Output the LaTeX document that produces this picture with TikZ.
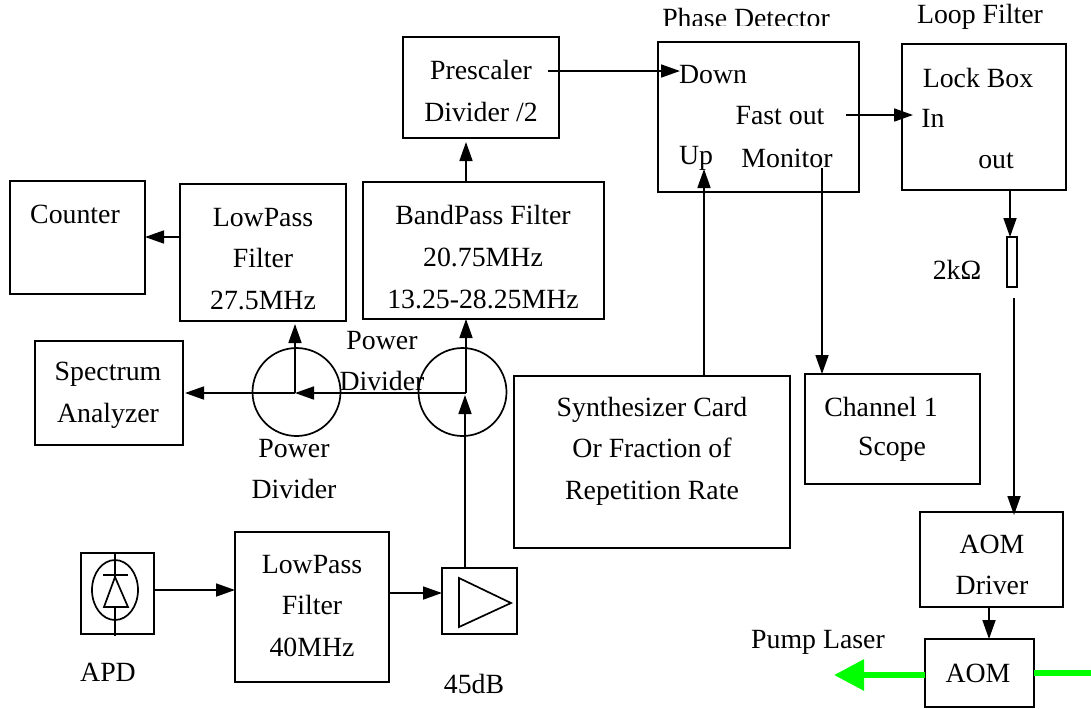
\documentclass[tikz,border=0pt]{standalone}
\usepackage{fontspec}
\setmainfont{Liberation Serif}
\usetikzlibrary{arrows.meta,calc,shapes.geometric}
\definecolor{laser}{RGB}{0,255,0}
\tikzset{
  every node/.style={font=\fontsize{13.9}{20.8}\selectfont,inner sep=0pt,outer sep=0pt,text=black},
  wire/.style={line width=0.85pt,black},
  arr/.style={wire,-{Triangle[length=9.5pt,width=6.5pt]}},
  beam/.style={line width=3pt,laser},
  beamarr/.style={beam,-{Triangle[length=15pt,width=15pt]}},
  blockbox/.style={draw=black,line width=0.85pt,rectangle},
  divider/.style={draw=black,line width=0.85pt,circle,minimum size=44pt},
  lab/.style={align=center}
}
% name, x1, y1, x2, y2 of the box in reference pixels
\newcommand{\blk}[5]{\node[blockbox,minimum width={(#4-#2)*0.5pt},minimum height={(#5-#3)*0.5pt}] (#1) at ({(#2+#4)/2},{(#3+#5)/2}) {};}
\begin{document}
\begin{tikzpicture}[x=0.5pt,y=-0.5pt]
\useasboundingbox (0,0) rectangle (1091,708);
% boxes
\blk{counter}{10}{181}{145}{294}
\blk{lpa}{180}{184}{346}{321}
\blk{bp}{363}{182}{604}{319}
\blk{pre}{403}{37}{559}{138}
\blk{pd}{658}{42}{859}{192}
\blk{lf}{902}{44}{1066}{190}
\blk{res}{1007}{237}{1017}{287}
\blk{spec}{35}{341}{183}{445}
\blk{syn}{514}{376}{790}{548}
\blk{chan}{805}{374}{980}{484}
\blk{apd}{81}{553}{154}{634}
\blk{lpb}{235}{532}{389}{682}
\blk{amp}{442}{568}{517}{634}
\blk{drv}{920}{512}{1063}{607}
\blk{aom}{925}{639}{1034}{707}
\node[divider] (dl) at (296.5,392) {};
\node[divider] (dr) at (462.5,392) {};
% labels
\node[lab] (tcounter) at (75,214) {Counter};
\node[lab] (tlpa) at (263,259) {LowPass\\Filter\\27.5MHz};
\node[lab] (tbp) at (483,257) {BandPass Filter\\20.75MHz\\13.25-28.25MHz};
\node[lab] (tpre) at (481,91) {Prescaler\\Divider /2};
\node[lab] (tspec) at (108,395) {Spectrum\\Analyzer};
\node[lab] (tsyn) at (652,451) {Synthesizer Card\\Or Fraction of\\Repetition Rate};
\node[lab] (tchana) at (881,407) {Channel 1};
\node[lab] (tchanb) at (892,449) {Scope};
\node[lab] (tlpb) at (312,606) {LowPass\\Filter\\40MHz};
\node[lab] (tdrv) at (992,565) {AOM\\Driver};
\node[lab] (taom) at (978,673) {AOM};
\begin{scope}
\clip (640,0) rectangle (840,25.5);
\node[lab] (tpd) at (746,18) {Phase Detector};
\end{scope}
\node[lab] (tlf) at (980,17) {Loop Filter};
\node[lab] (tdown) at (713,75) {Down};
\node[lab] (tfast) at (780,116) {Fast out};
\node[lab] (tup) at (696,158) {Up};
\node[lab] (tmon) at (787,158) {Monitor};
\node[lab] (tlock) at (978,78) {Lock Box};
\node[lab] (tin) at (933,118) {In};
\node[lab] (tout) at (996,161) {out};
\node[lab] (tres) at (957,270) {2kΩ};
\node[lab] (tdl) at (294,469) {Power\\Divider};
\node[lab] (tdr) at (382,361) {Power\\Divider};
\node[lab] (tapd) at (108,672) {APD};
\node[lab] (tamp) at (474,684) {45dB};
\node[lab] (tpump) at (818,642) {Pump Laser};
% APD symbol
\node[draw=black,line width=0.85pt,ellipse,minimum width=23pt,minimum height=30pt] (apdring) at (115,590) {};
\coordinate (dtop) at (115,577);
\coordinate (dbl) at (104,607);
\coordinate (dbr) at (128,607);
\coordinate (dbm) at (115,607);
\coordinate (barl) at (103,575);
\coordinate (barr) at (128,575);
\coordinate (leadt) at (115,553);
\coordinate (leadb) at (115,636);
\draw[wire] (dtop) -- (dbl) -- (dbr) -- cycle;
\draw[wire] (barl) -- (barr);
\draw[wire] (leadt) -- (dtop);
\draw[wire] (dbm) -- (leadb);
% amplifier symbol
\coordinate (ta) at (459,578);
\coordinate (tb) at (511,603);
\coordinate (tc) at (459,627);
\draw[wire] (ta) -- (tb) -- (tc) -- cycle;
% connectors
\coordinate (y590) at (0,590);
\coordinate (y593) at (0,593);
\draw[arr] (apd.east |- y590) -- (lpb.west |- y590);
\draw[arr] (lpb.east |- y593) -- (amp.west |- y593);
\coordinate (ampout) at (465,0);
\coordinate (ampin) at (465,395);
\draw[arr] (ampout |- amp.north) -- (ampin);
\coordinate (hubr) at (466,393);
\coordinate (hubl) at (295,393);
\coordinate (spectip) at (185,393);
\draw[arr] (hubr) -- (hubr |- bp.south);
\draw[arr] (hubr) -- (hubl);
\draw[arr] (hubl) -- (spectip);
\coordinate (lpatip) at (295,324);
\draw[arr] (hubl) -- (lpatip);
\coordinate (y237) at (0,237);
\draw[arr] (lpa.west |- y237) -- (counter.east |- y237);
\coordinate (pretip) at (466,142);
\draw[arr] (pretip |- bp.north) -- (pretip);
\coordinate (downfrom) at (548,71);
\coordinate (downtip) at (680,71);
\draw[arr] (downfrom) -- (downtip);
\coordinate (fastfrom) at (846,115);
\coordinate (fastto) at (913,115);
\draw[arr] (fastfrom) -- (fastto);
\coordinate (uptip) at (704,169);
\draw[arr] (uptip |- syn.north) -- (uptip);
\coordinate (monfrom) at (822,168);
\draw[arr] (monfrom) -- (monfrom |- chan.north);
\coordinate (lfout) at (1010,0);
\draw[arr] (lfout |- lf.south) -- (lfout |- res.north);
\coordinate (resfrom) at (1014,298);
\coordinate (drvtip) at (1014,515);
\draw[arr] (resfrom) -- (drvtip);
\coordinate (drvout) at (989,0);
\draw[arr] (drvout |- drv.south) -- (drvout |- aom.north);
% laser
\coordinate (beamend) at (834,675);
\coordinate (beamin) at (1091,673);
\draw[beamarr] (aom.west |- beamend) -- (beamend);
\draw[beam] (aom.east |- beamin) -- (beamin);
\end{tikzpicture}
\end{document}
